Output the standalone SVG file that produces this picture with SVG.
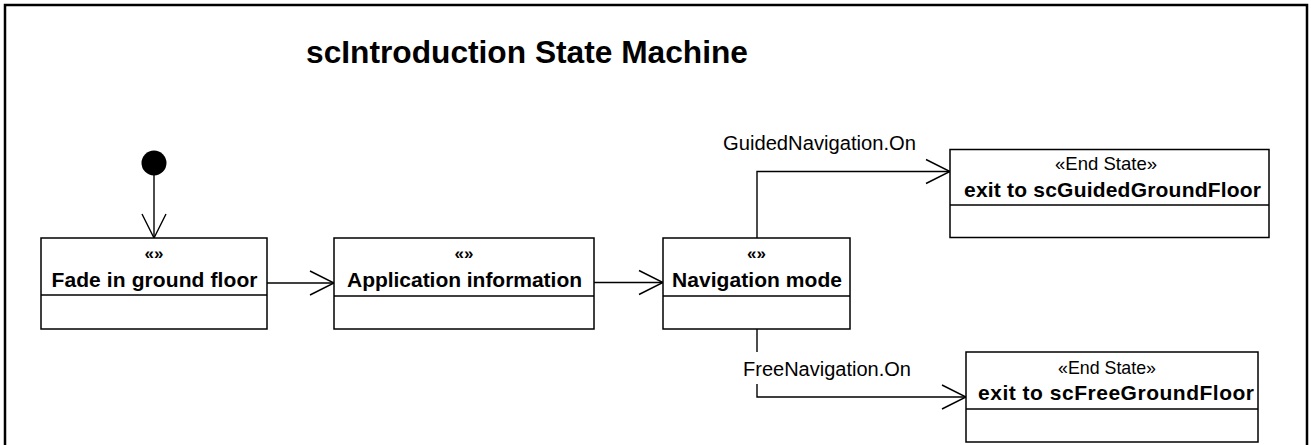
<svg xmlns="http://www.w3.org/2000/svg" width="1311" height="445" viewBox="0 0 1311 445">
<style>
.frame{fill:none;stroke:#000;stroke-width:2.5}
.box{fill:#fff;stroke:#000;stroke-width:1.5}
.div{stroke:#000;stroke-width:1.5}
.conn{fill:none;stroke:#000;stroke-width:1.4}
.head{fill:none;stroke:#000;stroke-width:1.4}
.title{font-family:"Liberation Sans",Arial,sans-serif;font-weight:bold;font-size:31px}
.name{font-family:"Liberation Sans",Arial,sans-serif;font-weight:bold;font-size:21px;text-anchor:middle}
.st{font-family:"Liberation Sans",Arial,sans-serif;font-weight:bold;font-size:17px;text-anchor:middle}
.es{font-family:"Liberation Sans",Arial,sans-serif;font-size:19px;text-anchor:middle}
.lbl{font-family:"Liberation Sans",Arial,sans-serif;font-size:20px}
</style>
<rect width="1311" height="445" fill="#fff"/>
<path class="frame" d="M5,447 V5 H1307 V447"/>
<text class="title" x="306" y="63" textLength="442" lengthAdjust="spacingAndGlyphs">scIntroduction State Machine</text>

<g id="connectors">
  <path class="conn" d="M154,175 V238"/>
  <path class="head" d="M142,214 L154,238 L166,214"/>
  <path class="conn" d="M267,283 H334"/>
  <path class="head" d="M310,271 L334,283 L310,295"/>
  <path class="conn" d="M594,282.5 H663"/>
  <path class="head" d="M639,270.5 L663,282.5 L639,294.5"/>
  <path class="conn" d="M757,238 V171.5 H950"/>
  <path class="head" d="M926,159.5 L950,171.5 L926,183.5"/>
  <text class="lbl" x="723" y="150" textLength="193" lengthAdjust="spacingAndGlyphs">GuidedNavigation.On</text>
  <path class="conn" d="M757,329 V352"/>
  <path class="conn" d="M757,384 V397 H966"/>
  <path class="head" d="M942,385 L966,397 L942,409"/>
  <text class="lbl" x="743" y="376" textLength="168" lengthAdjust="spacingAndGlyphs">FreeNavigation.On</text>
</g>

<g id="initial">
  <circle cx="154" cy="163" r="12.5" fill="#000"/>
</g>

<g id="fade">
  <rect class="box" x="41" y="238" width="226" height="91"/>
  <line class="div" x1="41" y1="295" x2="267" y2="295"/>
  <text class="st" x="154" y="259">«»</text>
  <text class="name" x="154.5" y="287" textLength="206" lengthAdjust="spacing">Fade in ground floor</text>
</g>

<g id="appinfo">
  <rect class="box" x="334" y="238" width="260" height="91"/>
  <line class="div" x1="334" y1="296" x2="594" y2="296"/>
  <text class="st" x="464" y="259">«»</text>
  <text class="name" x="464.5" y="287" textLength="235" lengthAdjust="spacing">Application information</text>
</g>

<g id="navmode">
  <rect class="box" x="663" y="238" width="187" height="91"/>
  <line class="div" x1="663" y1="296" x2="850" y2="296"/>
  <text class="st" x="756.5" y="259">«»</text>
  <text class="name" x="757" y="287" textLength="170" lengthAdjust="spacing">Navigation mode</text>
</g>

<g id="guided">
  <rect class="box" x="950" y="149.5" width="319" height="88"/>
  <line class="div" x1="950" y1="205" x2="1269" y2="205"/>
  <text class="es" x="1106" y="170" textLength="102" lengthAdjust="spacingAndGlyphs">«End State»</text>
  <text class="name" x="1112.5" y="197" textLength="297" lengthAdjust="spacing">exit to scGuidedGroundFloor</text>
</g>

<g id="free">
  <rect class="box" x="966" y="352" width="292" height="90"/>
  <line class="div" x1="966" y1="409" x2="1258" y2="409"/>
  <text class="es" x="1107" y="374" textLength="98" lengthAdjust="spacingAndGlyphs">«End State»</text>
  <text class="name" x="1116" y="400" textLength="276" lengthAdjust="spacing">exit to scFreeGroundFloor</text>
</g>
</svg>
